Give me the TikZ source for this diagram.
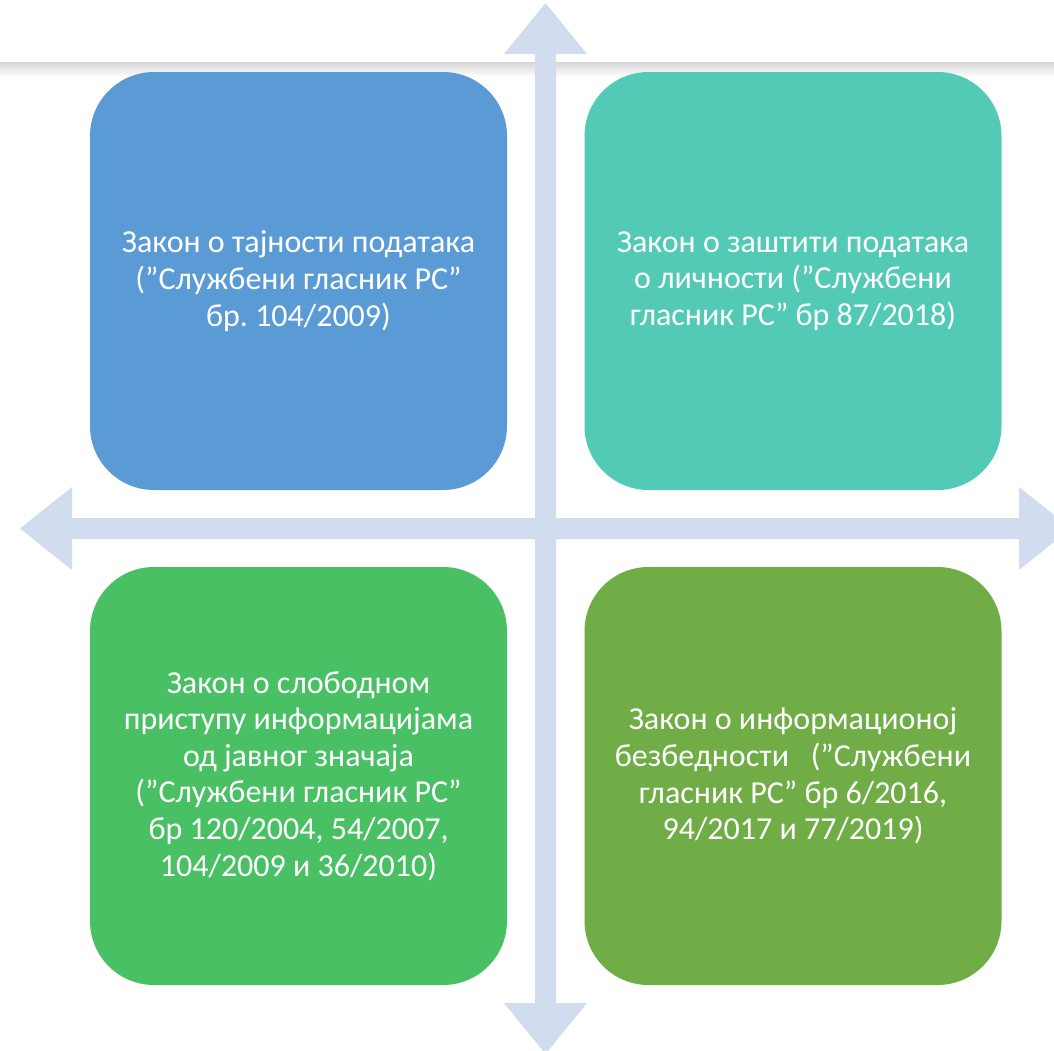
\documentclass[tikz,border=0pt]{standalone}
\usepackage{fontspec}
\setmainfont{Carlito}
\definecolor{cblue}{RGB}{91,155,213}
\definecolor{cteal}{RGB}{82,202,182}
\definecolor{cgreen}{RGB}{74,192,101}
\definecolor{colive}{RGB}{112,173,71}
\definecolor{carrow}{RGB}{209,220,238}
\begin{document}
\frenchspacing
\begin{tikzpicture}[x=1pt,y=-1pt,
  box/.style={rounded corners=64pt, minimum width=417pt, minimum height=418pt,
    inner sep=0pt, align=center, text=white,
    font=\fontsize{32pt}{36.6pt}\selectfont},
  arrowshape/.style={fill=carrow, draw=none}]
\useasboundingbox (0,0) rectangle (1054,1050);
\clip (0,0) rectangle (1054,1050);
\fill[white] (0,0) rectangle (1054,1050);
% top rule with soft shadow
\shade[top color=black!16, bottom color=white] (0,62) rectangle (1054,77);
% cross of double arrows
\coordinate (c) at (545.5,528.5);
\fill[arrowshape] (545.5,3) -- (587,54) -- (556,54) -- (556,1003) -- (587,1003)
  -- (545.5,1054) -- (504,1003) -- (535,1003) -- (535,54) -- (504,54) -- cycle;
\fill[arrowshape] (20,528.5) -- (72,487) -- (72,518) -- (1019,518) -- (1019,487)
  -- (1071,528.5) -- (1019,570) -- (1019,539) -- (72,539) -- (72,570) -- cycle;
% boxes
\node[box, fill=cblue] (tl) at (298.5,281) {Закон о тајности података\\(”Службени гласник РС”\\бр. 104/2009)};
\node[box, fill=cteal] (tr) at (793,281) {Закон о заштити података\\о личности (”Службени\\гласник РС” бр 87/2018)};
\node[box, fill=cgreen] (bl) at (298.5,776) {Закон о слободном\\приступу информацијама\\од јавног значаја\\(”Службени гласник РС”\\бр 120/2004, 54/2007,\\104/2009 и 36/2010)};
\node[box, fill=colive] (br) at (793,776) {Закон о информационој\\безбедности~~~(”Службени\\гласник РС” бр 6/2016,\\94/2017 и 77/2019)};
\end{tikzpicture}
\end{document}
